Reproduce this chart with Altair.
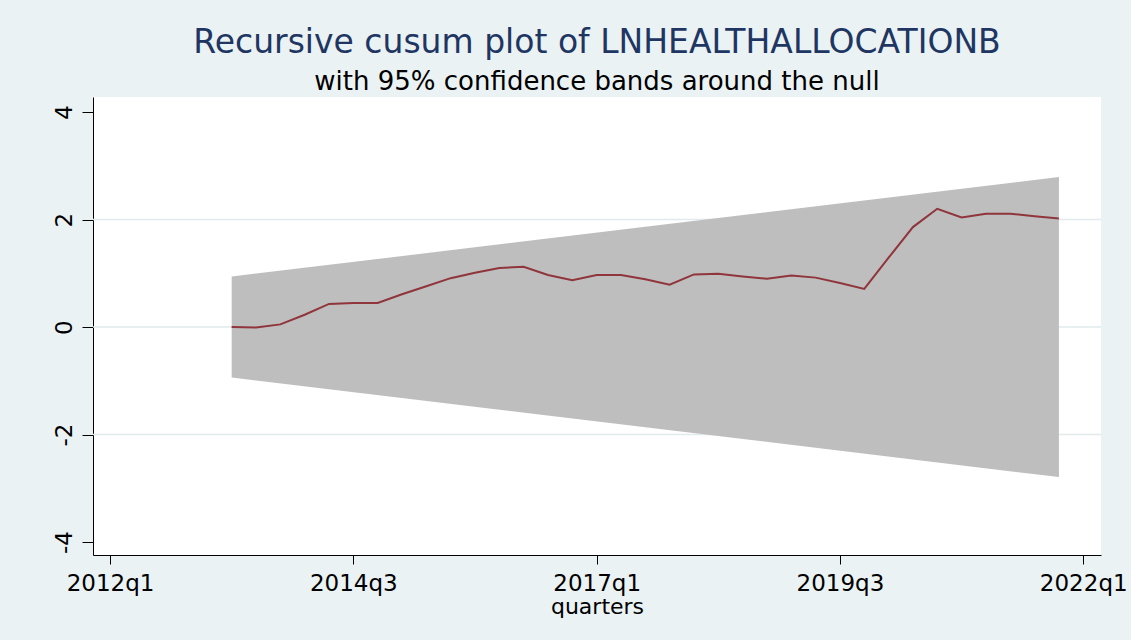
import altair as alt
import pandas as pd

# Quarter index: 0 = 2012q1
quarters = list(range(5, 40))
cusum = [0.00, -0.01, 0.05, 0.23, 0.43, 0.45, 0.45, 0.61, 0.76, 0.91,
         1.01, 1.10, 1.12, 0.97, 0.87, 0.97, 0.97, 0.89, 0.79, 0.98,
         0.99, 0.94, 0.90, 0.96, 0.92, 0.82, 0.71, 1.29, 1.86, 2.20,
         2.04, 2.11, 2.11, 2.06, 2.02]

# 95% confidence band endpoints (straight lines between them)
band_quarters = [5, 39]
band_upper = [0.94, 2.79]
band_lower = [-0.94, -2.79]

grid_values = [-2, 0, 2]
x_ticks = [0, 10, 20, 30, 40]
y_ticks = [-4, -2, 0, 2, 4]

BG = "#EAF2F3"
FONT = "DejaVu Sans"

line_df = pd.DataFrame({"q": quarters, "cusum": cusum})
band_df = pd.DataFrame({"q": band_quarters, "upper": band_upper, "lower": band_lower})
grid_df = pd.DataFrame({"g": grid_values})

x_scale = alt.Scale(domain=[-0.7, 40.73], nice=False, zero=False)
y_scale = alt.Scale(domain=[-4.24, 4.28], nice=False, zero=False)

quarter_label = ("toString(2012 + floor(datum.value / 4)) + 'q' + "
                 "toString(1 + (datum.value % 4))")

x_axis = alt.Axis(values=x_ticks, labelExpr=quarter_label, title="quarters",
                  grid=False, domainColor="black", domainWidth=1,
                  tickColor="black", tickSize=9, tickWidth=1,
                  labelFont=FONT, labelFontSize=23, labelColor="black",
                  labelPadding=8, titleFont=FONT, titleFontSize=22,
                  titleFontWeight="normal", titleColor="black", titlePadding=1,
                  labelFlush=False)
y_axis = alt.Axis(values=y_ticks, title=None, grid=False,
                  labelExpr="toString(datum.value)",
                  domainColor="black", domainWidth=1,
                  tickColor="black", tickSize=11, tickWidth=1,
                  labelFont=FONT, labelFontSize=23, labelColor="black",
                  labelAngle=270, labelAlign="center", labelBaseline="bottom",
                  labelPadding=6)

grid = alt.Chart(grid_df).mark_rule(color="#E1EAEC", strokeWidth=1.5).encode(
    y=alt.Y("g:Q", scale=y_scale, axis=y_axis),
)

band = alt.Chart(band_df).mark_area(color="#BEBEBE", opacity=1).encode(
    x=alt.X("q:Q", scale=x_scale, axis=x_axis),
    y=alt.Y("upper:Q", scale=y_scale, axis=y_axis),
    y2="lower:Q",
)

line = alt.Chart(line_df).mark_line(color="#90353B", strokeWidth=2).encode(
    x=alt.X("q:Q", scale=x_scale, axis=x_axis),
    y=alt.Y("cusum:Q", scale=y_scale, axis=y_axis),
)

chart = (
    alt.layer(grid, band, line)
    .properties(
        width=1008,
        height=458,
        background=BG,
        padding={"left": 93, "top": 97, "right": 30, "bottom": 85},
        autosize=alt.AutoSizeParams(type="none"),
        title=alt.TitleParams(
            text="Recursive cusum plot of LNHEALTHALLOCATIONB",
            subtitle="with 95% confidence bands around the null",
            anchor="middle",
            font=FONT,
            fontSize=33,
            fontWeight="normal",
            color="#1F3663",
            subtitleFont=FONT,
            subtitleFontSize=26,
            subtitleColor="black",
            subtitlePadding=9,
            offset=2,
        ),
    )
    .configure_view(fill="white", stroke=None)
)

chart.save("out.html", embed_options={"renderer": "svg", "actions": False})
